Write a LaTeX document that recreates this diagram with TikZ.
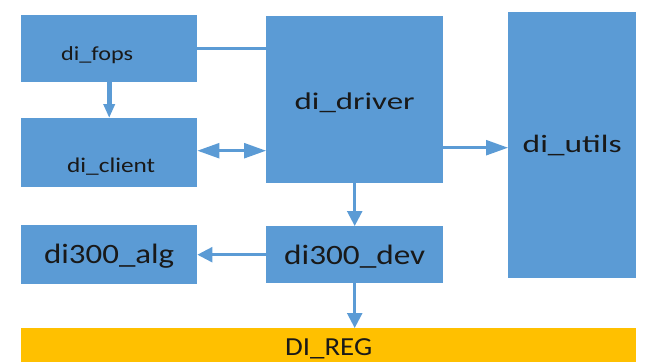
\documentclass[tikz,border=0pt]{standalone}
\usepackage{fontspec}
\setmainfont{Carlito}
\usetikzlibrary{arrows.meta}
\definecolor{diblue}{HTML}{5B9BD5}
\definecolor{diyellow}{HTML}{FFC000}
\tikzset{
  blk/.style={fill=diblue,anchor=north west,inner sep=0pt,text=black!90,text height=0pt,text depth=0pt},
  lnk/.style={draw=diblue,line width=2.5pt},
  longtip/.style={>={Triangle[length=22pt,width=15pt]}},
}
% baseline drop, ink width, text
\newcommand{\boxtext}[3]{\raisebox{-#1}{\resizebox{#2}{\height}{#3}}}

\begin{document}
\begin{tikzpicture}[x=1pt,y=-1pt,>={Triangle[length=15pt,width=15pt]}]
			\useasboundingbox (0,0) rectangle (647,362);
			\node[blk,minimum width=176pt,minimum height=67pt,font=\fontsize{20}{22}\selectfont](fops)at(21,15){\boxtext{11.5pt}{72pt}{di\_fops}\kern24pt};
			\node[blk,minimum width=176pt,minimum height=69pt,font=\fontsize{21}{22}\selectfont](client)at(21,118){\kern4pt\boxtext{20pt}{88pt}{di\_client}};
			\node[blk,minimum width=177pt,minimum height=167pt,font=\fontsize{24}{26}\selectfont](driver)at(266,16){\boxtext{9.8pt}{120pt}{di\_driver}};
			\node[blk,minimum width=128pt,minimum height=266pt,font=\fontsize{25}{26}\selectfont](utils)at(508,12){\boxtext{7.3pt}{99pt}{di\_utils}};
			\node[blk,minimum width=176pt,minimum height=59pt,font=\fontsize{28}{30}\selectfont](alg)at(21,225){\boxtext{8.8pt}{130pt}{di300\_alg}};
			\node[blk,minimum width=177pt,minimum height=57pt,font=\fontsize{28}{30}\selectfont](dev)at(266,226){\boxtext{9.8pt}{141pt}{di300\_dev}};
			\node[blk,fill=diyellow,minimum width=615pt,minimum height=34pt,font=\fontsize{26}{28}\selectfont](reg)at(21,328){\boxtext{10pt}{87pt}{DI\_REG}};
			\draw[lnk](fops.east)--(fops.east-|driver.west);
			\draw[lnk,->,line width=5pt,>={Triangle[length=14pt,width=11pt]}](fops.south)--(client.north);
			\draw[lnk,<->,longtip]([yshift=2pt]client.east)--([yshift=2pt]client.east-|driver.west);
			\draw[lnk,->,longtip]([yshift=-48pt]driver.east)--([yshift=-48pt]driver.east-|utils.west);
			\draw[lnk,->](driver.south)--(dev.north);
			\draw[lnk,->](dev.west)--(alg.east);
			\draw[lnk,->](dev.south)--(dev.south|-reg.north);
		\end{tikzpicture}
\end{document}
